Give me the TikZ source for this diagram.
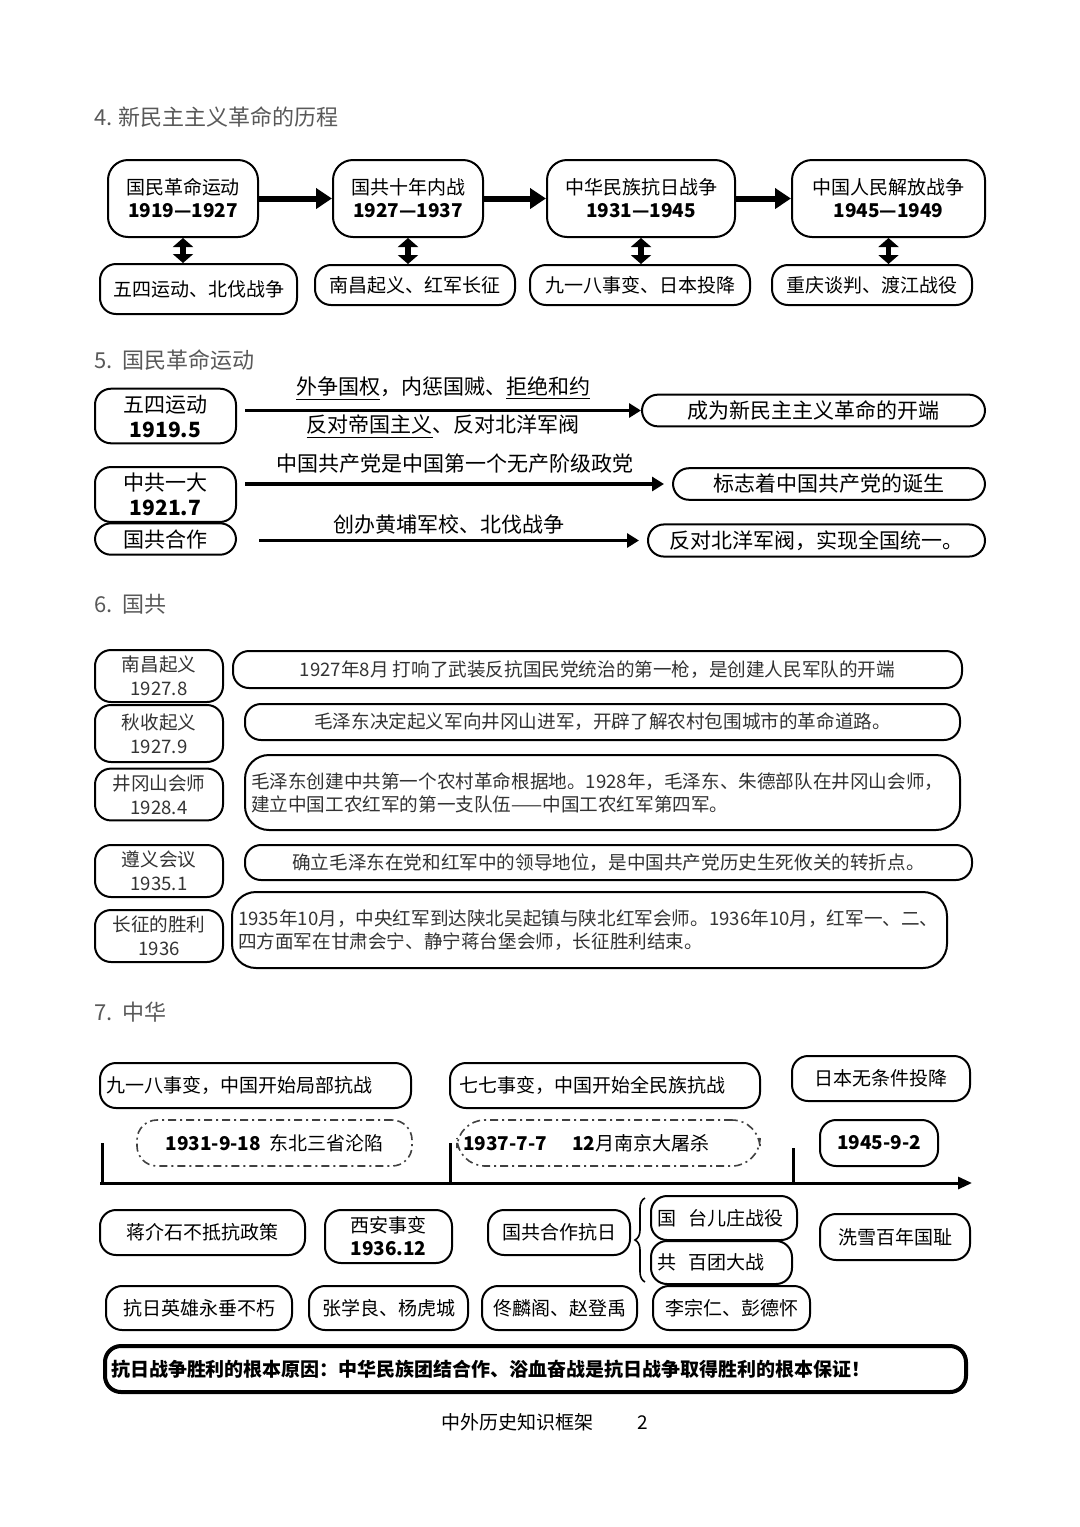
\documentclass[tikz,border=0pt]{standalone}
\usepackage{fontspec}
\setmainfont{Noto Sans CJK SC}
\usetikzlibrary{arrows.meta,decorations.pathreplacing}

\begin{document}
\begin{tikzpicture}[x=0.5pt,y=-0.5pt,
  sz/.style 2 args={minimum width=#1*0.5pt,minimum height=#2*0.5pt},
  box/.style={draw,rounded corners=8pt,line width=1pt,inner sep=3pt,align=center},
  heading/.style={anchor=west,text=black!65,font=\fontsize{11}{13}\selectfont},
  bigarrow/.style={line width=3pt,-{Triangle[length=8pt,width=10pt]}},
  dblarrow/.style={line width=2.6pt,{Triangle[length=4.5pt,width=10pt]}-{Triangle[length=4.5pt,width=10pt]}},
  midarrow/.style={line width=1.6pt,-{Triangle[length=6pt,width=7pt]}},
  dashbox/.style={draw,rounded corners=10pt,line width=0.8pt,text=black,
    dash pattern=on 4pt off 2pt on 1pt off 2pt,inner sep=3pt}]
  \useasboundingbox[fill=white] (0,0) rectangle (1080,1527);

  % Section 4: the four stages
  \node[heading] (h4) at (87,117) {4. 新民主主义革命的历程};
  \begin{scope}[font=\fontsize{9.5}{11.5}\selectfont]
    \node[box,sz={150}{77},rounded corners=10pt] (rev) at (183,198.5) {国民革命运动\\\textbf{1919—1927}};
    \node[box,sz={150}{77},rounded corners=10pt] (civ) at (408,198.5) {国共十年内战\\\textbf{1927—1937}};
    \node[box,sz={188}{77},rounded corners=10pt] (anti) at (641,198.5) {中华民族抗日战争\\\textbf{1931—1945}};
    \node[box,sz={193}{77},rounded corners=10pt] (lib) at (888.5,198.5) {中国人民解放战争\\\textbf{1945—1949}};
    \node[box,sz={197}{50}] (e1) at (198.5,289) {五四运动、北伐战争};
    \node[box,sz={200}{40}] (e2) at (415,285) {南昌起义、红军长征};
    \node[box,sz={220}{40}] (e3) at (640,285) {九一八事变、日本投降};
    \node[box,sz={200}{40}] (e4) at (872,285) {重庆谈判、渡江战役};
    \foreach \a/\b in {rev/civ,civ/anti,anti/lib} \draw[bigarrow] (\a) -- (\b);
    \foreach \a/\b in {rev/e1,civ/e2,anti/e3,lib/e4}
      \draw[dblarrow] (\a.south) -- (\a.south |- \b.north);
  \end{scope}

  % Section 5: national revolution
  \node[heading] (h5) at (87,360) {5.\ \ 国民革命运动};
  \begin{scope}[font=\fontsize{10.5}{12.5}\selectfont]
    \node[box,sz={141}{48}] (wusi) at (165.5,416) {五四运动\\\textbf{1919.5}};
    \node[box,sz={141}{47}] (yida) at (165.5,494.5) {中共一大\\\textbf{1921.7}};
    \node[box,sz={141}{30}] (hezuo) at (165.5,539) {国共合作};
    \node[box,sz={343}{29}] (r1) at (813.5,410.5) {成为新民主主义革命的开端};
    \node[box,sz={312}{29}] (r2) at (829,484) {标志着中国共产党的诞生};
    \node[box,sz={337}{29}] (r3) at (816.5,540.5) {反对北洋军阀，实现全国统一。};
    \draw[midarrow] ([xshift=4pt]wusi.east |- r1.west) -- (r1.west)
      node[midway,above=1pt] {\underline{外争国权}，内惩国贼、\underline{拒绝和约}}
      node[midway,below=-2pt] {\underline{反对帝国主义}、反对北洋军阀};
    \draw[midarrow] ([xshift=4pt]yida.east |- r2.west) -- ([xshift=-4pt]r2.west)
      node[midway,above=1pt] {中国共产党是中国第一个无产阶级政党};
    \draw[midarrow] ([xshift=11pt]hezuo.east |- r3.west) -- ([xshift=-4pt]r3.west)
      node[midway,above=-1pt] {创办黄埔军校、北伐战争};
  \end{scope}

  % Section 6: the Communist Party's road
  \node[heading] (h6) at (87,604) {6.\ \ 国共};
  \begin{scope}[font=\fontsize{9.3}{11.5}\selectfont,text=black!80]
    \foreach \n/\y/\h/\t/\d in {nc/676/52/南昌起义/1927.8,qs/733.5/57/秋收起义/1927.9,
      jg/794.5/51/井冈山会师/1928.4,zy/871/52/遵义会议/1935.1,cz/936/52/长征的胜利/1936}
      \node[box,sz={128}{\h},font=\fontsize{9.3}{12}\selectfont] (\n) at (159,\y) {\t\\\d};
    \node[box,sz={729}{37}] (d1) at (597.5,669.5) {1927年8月 打响了武装反抗国民党统治的第一枪，是创建人民军队的开端};
    \node[box,sz={715}{36}] (d2) at (602.5,722) {毛泽东决定起义军向井冈山进军，开辟了解农村包围城市的革命道路。};
    \node[box,sz={715}{75},text width=351.5pt,align=left,rounded corners=12pt] (d3) at (602.5,792.5)
      {毛泽东创建中共第一个农村革命根据地。1928年，毛泽东、朱德部队在井冈山会师，\\建立中国工农红军的第一支队伍——中国工农红军第四军。};
    \node[box,sz={727}{35}] (d4) at (608.5,862.5) {确立毛泽东在党和红军中的领导地位，是中国共产党历史生死攸关的转折点。};
    \node[box,sz={715}{76},text width=351.5pt,align=left,rounded corners=12pt] (d5) at (589.5,930)
      {1935年10月，中央红军到达陕北吴起镇与陕北红军会师。1936年10月，红军一、二、\\四方面军在甘肃会宁、静宁蒋台堡会师，长征胜利结束。};
  \end{scope}

  % Section 7: the war of resistance
  \node[heading] (h7) at (87,1012) {7.\ \ 中华};
  \begin{scope}[font=\fontsize{9.5}{11.5}\selectfont]
    \node[box,sz={311}{45},text width=149.5pt,align=left] (t1) at (255.5,1085.5) {九一八事变，中国开始局部抗战};
    \node[box,sz={310}{45},text width=146pt,align=left] (t2) at (605,1085.5) {七七事变，中国开始全民族抗战};
    \node[box,sz={178}{45}] (t3) at (881,1078.5) {日本无条件投降};
    \node[dashbox,sz={275}{46},draw=black!75] (s1) at (274.5,1143) {\textbf{1931-9-18}\ \ 东北三省沦陷};
    \node[dashbox,sz={303}{46},draw=black!75,rounded corners=14pt,text width=145.5pt,align=left] (s2) at (608.5,1143)
      {\textbf{1937-7-7}\quad\ \textbf{12}月南京大屠杀};
    \node[box,sz={118}{46}] (t4) at (879,1143) {\textbf{1945-9-2}};
    \coordinate (tl0) at (100,1183);
    \coordinate (tl1) at (972,1183);
    \draw[line width=1.5pt,-{Triangle[length=7pt,width=6pt]}] (tl0) -- (tl1);
    \foreach \x/\t in {102/1143,450/1143,793/1148} \draw[line width=1.5pt] (\x,\t) -- (\x,1183);
    \node[box,sz={205}{45}] (c1) at (202.5,1232.5) {蒋介石不抵抗政策};
    \node[box,sz={127}{53}] (c2) at (388.5,1236.5) {西安事变\\\textbf{1936.12}};
    \node[box,sz={142}{45}] (c3) at (559,1232.5) {国共合作抗日};
    \node[box,sz={146}{44},text width=67pt,align=left] (c4) at (724,1218) {国\ \ 台儿庄战役};
    \node[box,sz={141}{43},text width=64.5pt,align=left] (c5) at (721.5,1262.5) {共\ \ 百团大战};
    \node[box,sz={150}{46}] (c6) at (895,1237) {洗雪百年国耻};
    \coordinate (br0) at (645,1282);
    \coordinate (br1) at (645,1198);
    \draw[line width=0.8pt,decorate,decoration={brace,amplitude=5pt}] (br0) -- (br1);
    \node[box,sz={186}{44}] (p1) at (199,1308) {抗日英雄永垂不朽};
    \node[box,sz={159}{44}] (p2) at (388.5,1308) {张学良、杨虎城};
    \node[box,sz={155}{44}] (p3) at (559.5,1308) {佟麟阁、赵登禹};
    \node[box,sz={157}{44}] (p4) at (731.5,1308) {李宗仁、彭德怀};
    \node[box,sz={861}{46},line width=2pt,text width=424.5pt,align=left,inner sep=3pt] (root) at (535.5,1369)
      {\textbf{抗日战争胜利的根本原因：中华民族团结合作、浴血奋战是抗日战争取得胜利的根本保证！}};
  \end{scope}

  \node[anchor=west,font=\fontsize{9.5}{11}\selectfont] (foot) at (434,1422) {中外历史知识框架\hspace{22pt}2};
\end{tikzpicture}
\end{document}
